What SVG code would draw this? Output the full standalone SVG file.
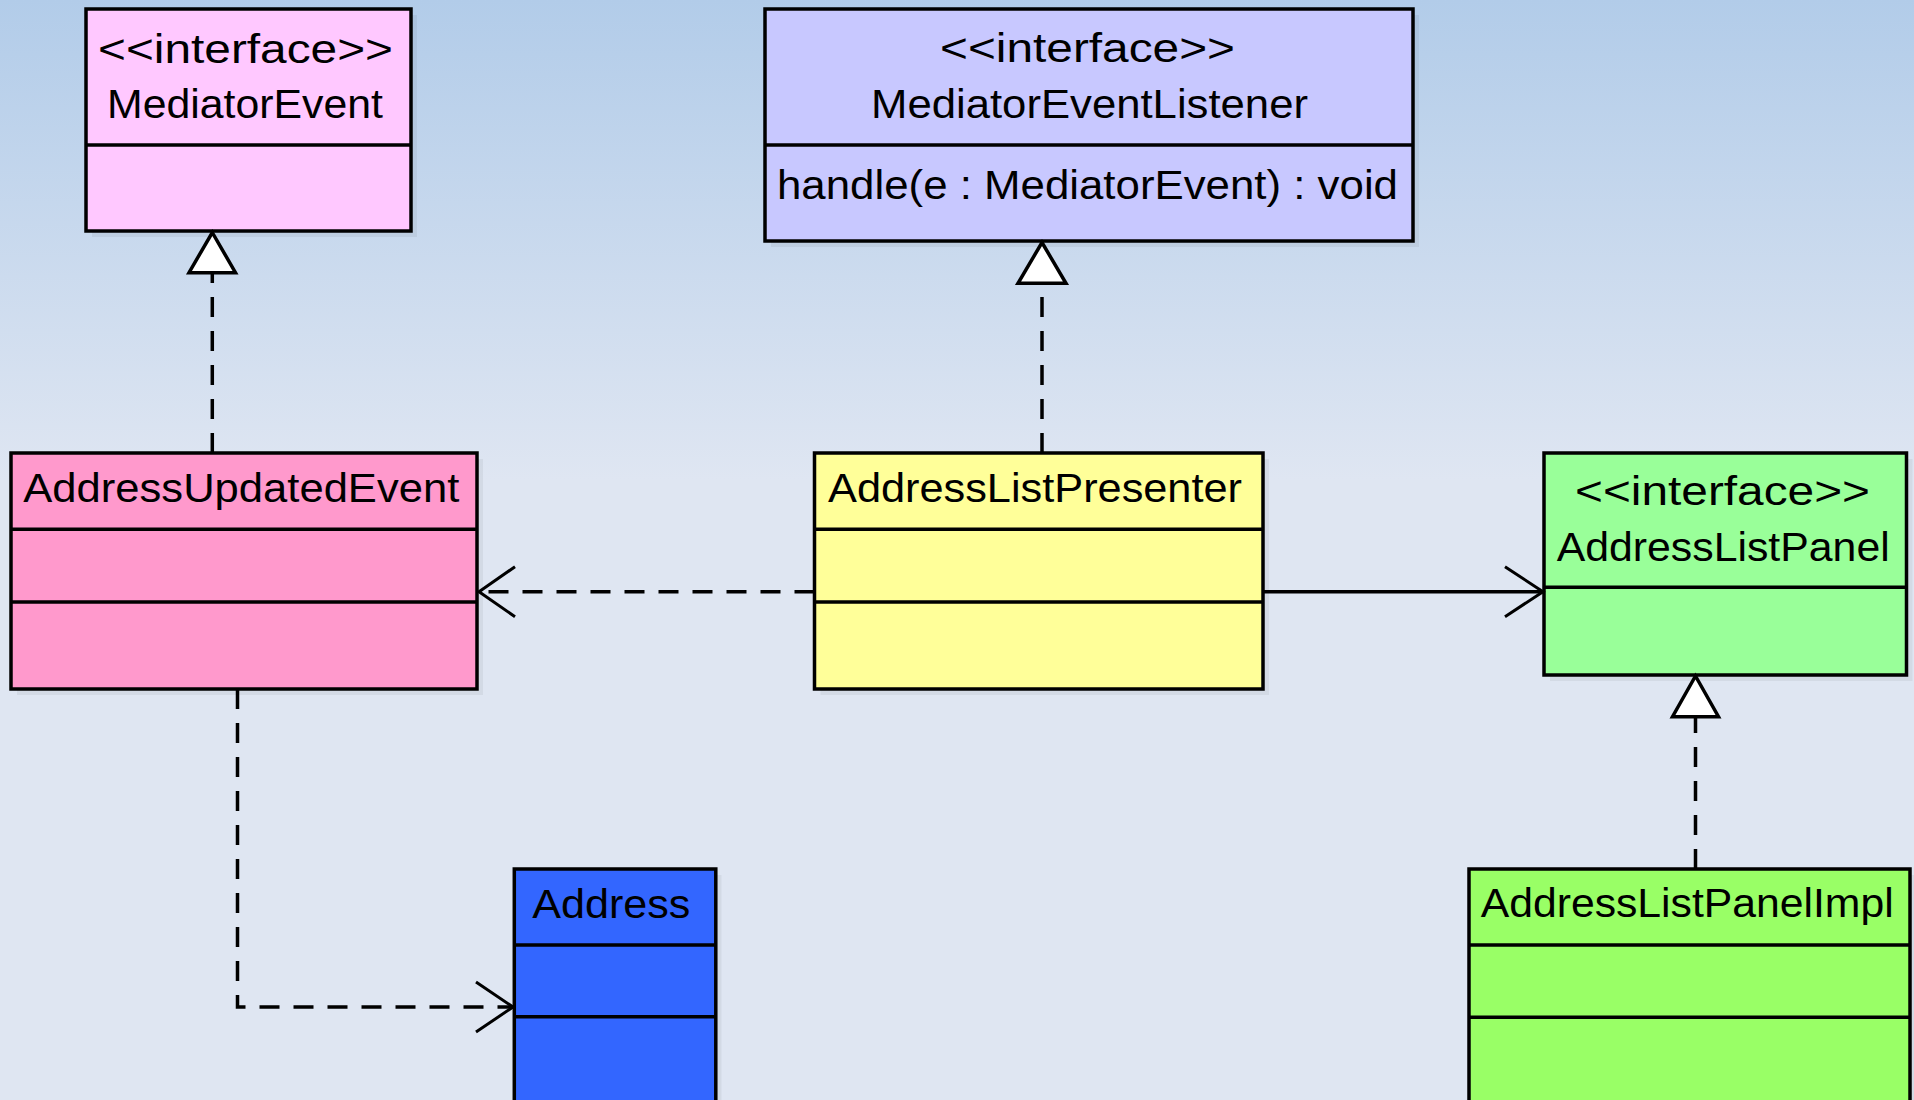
<svg xmlns="http://www.w3.org/2000/svg" width="1914" height="1100" viewBox="0 0 1914 1100">
  <defs>
    <linearGradient id="bg" x1="0" y1="0" x2="0" y2="480" gradientUnits="userSpaceOnUse">
      <stop offset="0" stop-color="#b2cce9"/>
      <stop offset="1" stop-color="#dfe6f2"/>
    </linearGradient>
    <style>
      .box { stroke: #000; stroke-width: 3.5; }
      .div { stroke: #000; stroke-width: 3.5; fill: none; }
      .shadow { fill: #000; fill-opacity: 0.05; }
      .t { font-family: "Liberation Sans", Arial, sans-serif; font-size: 41px; fill: #000; }
      .dash { stroke: #000; stroke-width: 3.5; fill: none; stroke-dasharray: 20 14; }
      .solid { stroke: #000; stroke-width: 3.5; fill: none; }
      .open { stroke: #000; stroke-width: 3; fill: none; }
      .tri { stroke: #000; stroke-width: 3.5; fill: #fff; stroke-linejoin: miter; }
    </style>
  </defs>

  <rect x="0" y="0" width="1914" height="1100" fill="url(#bg)"/>

  <!-- interface MediatorEvent -->
  <g id="MediatorEvent">
    <rect class="shadow" x="92" y="15" width="325" height="222"/>
    <rect class="box" x="86" y="9" width="325" height="222" fill="#ffc8ff"/>
    <line class="div" x1="86" y1="145" x2="411" y2="145"/>
    <text class="t" x="98" y="62.5" textLength="295" lengthAdjust="spacingAndGlyphs">&lt;&lt;interface&gt;&gt;</text>
    <text class="t" x="107" y="118.3" textLength="276" lengthAdjust="spacingAndGlyphs">MediatorEvent</text>
  </g>

  <!-- interface MediatorEventListener -->
  <g id="MediatorEventListener">
    <rect class="shadow" x="771" y="15" width="648" height="232"/>
    <rect class="box" x="765" y="9" width="648" height="232" fill="#c8c8ff"/>
    <line class="div" x1="765" y1="145" x2="1413" y2="145"/>
    <text class="t" x="940" y="61.7" textLength="295" lengthAdjust="spacingAndGlyphs">&lt;&lt;interface&gt;&gt;</text>
    <text class="t" x="871" y="118.3" textLength="437" lengthAdjust="spacingAndGlyphs">MediatorEventListener</text>
    <text class="t" x="777" y="199" textLength="621" lengthAdjust="spacingAndGlyphs">handle(e : MediatorEvent) : void</text>
  </g>

  <!-- class AddressUpdatedEvent -->
  <g id="AddressUpdatedEvent">
    <rect class="shadow" x="17" y="459" width="466" height="236"/>
    <rect class="box" x="11" y="453" width="466" height="236" fill="#ff99cc"/>
    <line class="div" x1="11" y1="529.3" x2="477" y2="529.3"/>
    <line class="div" x1="11" y1="602" x2="477" y2="602"/>
    <text class="t" x="23.3" y="501.7" textLength="436" lengthAdjust="spacingAndGlyphs">AddressUpdatedEvent</text>
  </g>

  <!-- class AddressListPresenter -->
  <g id="AddressListPresenter">
    <rect class="shadow" x="820.5" y="459" width="448.5" height="236"/>
    <rect class="box" x="814.5" y="453" width="448.5" height="236" fill="#ffff99"/>
    <line class="div" x1="814.5" y1="529.3" x2="1263" y2="529.3"/>
    <line class="div" x1="814.5" y1="602" x2="1263" y2="602"/>
    <text class="t" x="828" y="501.7" textLength="414" lengthAdjust="spacingAndGlyphs">AddressListPresenter</text>
  </g>

  <!-- interface AddressListPanel -->
  <g id="AddressListPanel">
    <rect class="shadow" x="1550" y="459" width="362.5" height="222"/>
    <rect class="box" x="1544" y="453" width="362.5" height="222" fill="#99ff99"/>
    <line class="div" x1="1544" y1="587.3" x2="1906.5" y2="587.3"/>
    <text class="t" x="1575" y="505" textLength="295" lengthAdjust="spacingAndGlyphs">&lt;&lt;interface&gt;&gt;</text>
    <text class="t" x="1556.7" y="560.7" textLength="333" lengthAdjust="spacingAndGlyphs">AddressListPanel</text>
  </g>

  <!-- class Address -->
  <g id="Address">
    <rect class="shadow" x="520" y="875" width="201.5" height="240"/>
    <rect class="box" x="514.3" y="869" width="201.5" height="240" fill="#3366ff"/>
    <line class="div" x1="514.3" y1="945" x2="715.8" y2="945"/>
    <line class="div" x1="514.3" y1="1016.8" x2="715.8" y2="1016.8"/>
    <text class="t" x="532.3" y="918.3" textLength="158" lengthAdjust="spacingAndGlyphs">Address</text>
  </g>

  <!-- class AddressListPanelImpl -->
  <g id="AddressListPanelImpl">
    <rect class="shadow" x="1475" y="875" width="441" height="240"/>
    <rect class="box" x="1469" y="869" width="441" height="240" fill="#99ff66"/>
    <line class="div" x1="1469" y1="945" x2="1910" y2="945"/>
    <line class="div" x1="1469" y1="1017.3" x2="1910" y2="1017.3"/>
    <text class="t" x="1480.7" y="917.3" textLength="413" lengthAdjust="spacingAndGlyphs">AddressListPanelImpl</text>
  </g>

  <g id="connectors">
    <!-- AddressUpdatedEvent realizes MediatorEvent -->
    <line class="dash" x1="212.3" y1="453" x2="212.3" y2="273"/>
    <polygon class="tri" points="212.3,232.5 235.5,272.7 189,272.7"/>

    <!-- AddressListPresenter realizes MediatorEventListener -->
    <line class="dash" x1="1042" y1="453" x2="1042" y2="283.3"/>
    <polygon class="tri" points="1042,242.5 1066,283.3 1018,283.3"/>

    <!-- AddressListPanelImpl realizes AddressListPanel -->
    <line class="dash" x1="1695.5" y1="869" x2="1695.5" y2="716.7"/>
    <polygon class="tri" points="1695.5,676 1718.5,716.7 1672.5,716.7"/>

    <!-- AddressListPresenter uses AddressUpdatedEvent -->
    <line class="dash" x1="814.5" y1="591.7" x2="479" y2="591.7"/>
    <polyline class="open" points="515,566.7 479,591.7 515,616.7"/>

    <!-- AddressListPresenter holds AddressListPanel -->
    <line class="solid" x1="1263" y1="591.7" x2="1543" y2="591.7"/>
    <polyline class="open" points="1505,566.7 1543,591.7 1505,616.7"/>

    <!-- AddressUpdatedEvent uses Address -->
    <polyline class="dash" points="237.5,689 237.5,1007 513,1007"/>
    <polyline class="open" points="476,982 513,1007 476,1032"/>
  </g>
</svg>
